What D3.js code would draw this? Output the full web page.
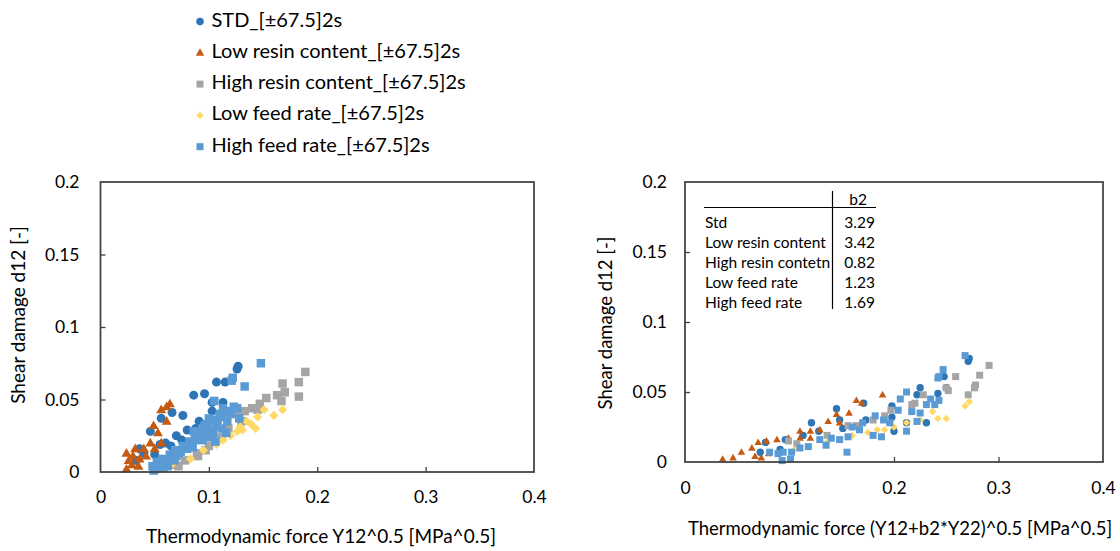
<!DOCTYPE html>
<html><head><meta charset="utf-8">
<script src="https://cdn.jsdelivr.net/npm/d3@7"></script>
<style>
html,body{margin:0;padding:0;background:#fff;}
svg{display:block;font-family:Lato,"Open Sans",sans-serif;}
</style></head>
<body><svg id="c" width="1120" height="551"></svg>
<script>
// ---------- data ----------
const seriesNames = ["STD_[±67.5]2s","Low resin content_[±67.5]2s","High resin content_[±67.5]2s","Low feed rate_[±67.5]2s","High feed rate_[±67.5]2s"];
const seriesColors = ["#2E75B6","#C55A11","#A5A5A5","#FFD966","#5B9BD5"];
const seriesShapes = ["circle","triangle","square","diamond","square"];

const xTicks = [0,0.1,0.2,0.3,0.4];
const xTickLabels = ["0","0.1","0.2","0.3","0.4"];
const yTicks = [0,0.05,0.1,0.15,0.2];
const yTickLabels = ["0","0.05","0.1","0.15","0.2"];

const leftXTitle = "Thermodynamic force Y12^0.5 [MPa^0.5]";
const rightXTitle = "Thermodynamic force (Y12+b2*Y22)^0.5 [MPa^0.5]";
const yTitle = "Shear damage d12 [-]";

const tableHeader = "b2";
const tableRows = ["Std","Low resin content","High resin contetn","Low feed rate","High feed rate"];
const tableValues = ["3.29","3.42","0.82","1.23","1.69"];

// left panel: [Y12^0.5, d12]
const stdLeft = [[0.127,0.073],[0.126,0.071],[0.107,0.062],[0.115,0.062],[0.086,0.053],[0.096,0.054],[0.103,0.048],[0.113,0.048],[0.066,0.041],[0.076,0.039],[0.056,0.037],[0.103,0.042],[0.091,0.035],[0.080,0.029],[0.046,0.028],[0.070,0.025],[0.060,0.020],[0.055,0.019],[0.036,0.016],[0.040,0.013],[0.033,0.008],[0.088,0.030],[0.075,0.022],[0.065,0.018],[0.050,0.012]];
const lowResinLeft = [[0.064,0.047],[0.056,0.043],[0.061,0.035],[0.049,0.032],[0.053,0.027],[0.046,0.020],[0.056,0.020],[0.040,0.016],[0.032,0.016],[0.024,0.013],[0.026,0.008],[0.036,0.009],[0.029,0.005],[0.024,0.002],[0.050,0.016],[0.035,0.004],[0.061,0.045],[0.042,0.011],[0.030,0.011]];
const highResinLeft = [[0.189,0.069],[0.168,0.061],[0.183,0.062],[0.183,0.052],[0.170,0.055],[0.163,0.053],[0.167,0.049],[0.153,0.051],[0.147,0.047],[0.140,0.044],[0.133,0.042],[0.126,0.040],[0.130,0.035],[0.107,0.023],[0.089,0.013],[0.069,0.005],[0.118,0.030],[0.100,0.018],[0.078,0.008],[0.145,0.043],[0.072,0.004],[0.090,0.011],[0.097,0.015],[0.112,0.024]];
const lowFeedLeft = [[0.168,0.043],[0.160,0.039],[0.151,0.043],[0.145,0.038],[0.143,0.030],[0.135,0.035],[0.129,0.031],[0.126,0.028],[0.131,0.029],[0.113,0.022],[0.107,0.019],[0.095,0.015],[0.083,0.009],[0.067,0.006],[0.052,0.001],[0.120,0.025],[0.139,0.033]];
const highFeedLeft = [[0.148,0.075],[0.122,0.065],[0.121,0.063],[0.133,0.059],[0.105,0.049],[0.113,0.044],[0.126,0.044],[0.128,0.037],[0.117,0.035],[0.100,0.037],[0.107,0.032],[0.116,0.027],[0.106,0.021],[0.096,0.028],[0.089,0.024],[0.082,0.021],[0.076,0.018],[0.069,0.015],[0.064,0.012],[0.057,0.009],[0.052,0.007],[0.048,0.004],[0.049,0.001],[0.096,0.032],[0.086,0.028],[0.100,0.029],[0.110,0.040],[0.092,0.025],[0.080,0.016],[0.072,0.013],[0.060,0.006],[0.053,0.003],[0.120,0.040],[0.112,0.030],
  [0.055,0.005],[0.058,0.003],[0.062,0.008],[0.066,0.010],[0.070,0.011],[0.074,0.014],[0.078,0.016],[0.083,0.019],[0.087,0.022],[0.091,0.027],[0.094,0.030],[0.098,0.033],[0.103,0.035],[0.108,0.036],[0.112,0.038],[0.118,0.042],[0.123,0.045],[0.104,0.027],[0.099,0.024],[0.094,0.022],[0.085,0.017],[0.068,0.008],[0.062,0.004],[0.050,0.002]];

// right panel: [(Y12+b2*Y22)^0.5, d12]
const stdRight = [[0.271,0.072],[0.272,0.074],[0.248,0.061],[0.250,0.053],[0.225,0.053],[0.222,0.048],[0.242,0.049],[0.198,0.040],[0.171,0.042],[0.145,0.038],[0.121,0.028],[0.173,0.030],[0.198,0.032],[0.231,0.028],[0.212,0.028],[0.200,0.022],[0.151,0.024],[0.128,0.022],[0.113,0.019],[0.096,0.016],[0.077,0.014],[0.072,0.007],[0.148,0.030],[0.091,0.009]];
const lowResinRight = [[0.189,0.048],[0.164,0.044],[0.169,0.042],[0.157,0.035],[0.145,0.034],[0.148,0.028],[0.137,0.029],[0.110,0.022],[0.120,0.022],[0.110,0.017],[0.120,0.017],[0.099,0.017],[0.088,0.016],[0.078,0.015],[0.070,0.014],[0.064,0.010],[0.080,0.006],[0.067,0.004],[0.073,0.003],[0.054,0.007],[0.046,0.003],[0.036,0.002],[0.129,0.023]];
const highResinRight = [[0.291,0.069],[0.282,0.062],[0.278,0.055],[0.277,0.053],[0.271,0.048],[0.259,0.061],[0.250,0.053],[0.228,0.048],[0.220,0.042],[0.217,0.041],[0.197,0.037],[0.191,0.033],[0.164,0.026],[0.156,0.026],[0.136,0.019],[0.107,0.013],[0.099,0.015],[0.252,0.051],[0.180,0.030]];
const lowFeedRight = [[0.272,0.043],[0.268,0.040],[0.242,0.031],[0.250,0.031],[0.237,0.036],[0.212,0.028],[0.191,0.023],[0.184,0.023],[0.160,0.019],[0.137,0.015],[0.105,0.009],[0.102,0.007],[0.175,0.021],[0.225,0.030],[0.200,0.025]];
const highFeedRight = [[0.268,0.076],[0.247,0.066],[0.243,0.061],[0.242,0.060],[0.212,0.050],[0.206,0.045],[0.235,0.045],[0.243,0.044],[0.239,0.041],[0.231,0.041],[0.217,0.036],[0.204,0.037],[0.225,0.035],[0.222,0.029],[0.212,0.022],[0.196,0.028],[0.182,0.033],[0.188,0.018],[0.180,0.019],[0.167,0.023],[0.156,0.018],[0.148,0.016],[0.155,0.007],[0.140,0.017],[0.129,0.016],[0.118,0.011],[0.110,0.010],[0.102,0.007],[0.094,0.007],[0.089,0.006],[0.101,0.002],[0.093,0.001],[0.081,0.007],[0.170,0.028],[0.160,0.025],[0.135,0.012],[0.190,0.030]];

const leftSeries = [stdLeft, lowResinLeft, highResinLeft, lowFeedLeft, highFeedLeft];
const rightSeries = [stdRight, lowResinRight, highResinRight, lowFeedRight, highFeedRight];

// ---------- drawing ----------
const svg = d3.select("#c");
const FRAME = "#404040";

function shapePath(shape, s){ // s = nominal size (width) in px
  const h = s/2;
  if(shape==="circle"){ return d3.symbol(d3.symbolCircle, Math.PI*h*h)(); }
  if(shape==="square"){ return `M${-h},${-h}H${h}V${h}H${-h}Z`; }
  if(shape==="diamond"){ const r=h*1.15; return `M0,${-r}L${r},0L0,${r}L${-r},0Z`; }
  if(shape==="triangle"){ const th = s*0.87; return `M0,${-th*0.6}L${h},${th*0.4}L${-h},${th*0.4}Z`; }
}

function panel(cfg){
  const x = d3.scaleLinear().domain([0,0.4]).range([cfg.x0,cfg.x1]);
  const y = d3.scaleLinear().domain([0,0.2]).range([cfg.y0,cfg.y1]);
  const g = svg.append("g");

  const ax = g.append("g").attr("transform",`translate(0,${cfg.y0})`)
    .call(d3.axisBottom(x).tickValues(xTicks).tickFormat((d,i)=>xTickLabels[i])
      .tickSizeInner(-5).tickSizeOuter(0).tickPadding(cfg.xPad));
  const ay = g.append("g").attr("transform",`translate(${cfg.x0},0)`)
    .call(d3.axisLeft(y).tickValues(yTicks).tickFormat((d,i)=>yTickLabels[i])
      .tickSizeInner(-5).tickSizeOuter(0).tickPadding(cfg.yPad));
  [ax,ay].forEach(a=>{
    a.select(".domain").remove();
    a.selectAll("line").attr("stroke",FRAME).attr("stroke-width",1.3);
    a.selectAll("text").attr("fill","#000").style("font-size",cfg.tickFont+"px").style("font-family","Lato");
  });
  ax.selectAll(".tick").filter(d=>d===0||d===0.4).select("line").remove();
  ay.selectAll(".tick").filter(d=>d===0||d===0.2).select("line").remove();

  cfg.series.forEach((pts,si)=>{
    g.append("g").selectAll("path").data(pts).join("path")
      .attr("d",shapePath(seriesShapes[si], cfg.msize[si]))
      .attr("transform",d=>`translate(${x(d[0])},${y(d[1])})`)
      .attr("fill",seriesColors[si]);
  });

  g.append("rect").attr("x",cfg.x0).attr("y",cfg.y1)
    .attr("width",cfg.x1-cfg.x0).attr("height",cfg.y0-cfg.y1)
    .attr("fill","none").attr("stroke",FRAME).attr("stroke-width",1.75);

  g.append("text").attr("x",cfg.xtX).attr("y",cfg.xtY).attr("text-anchor","middle")
    .attr("dominant-baseline","middle").style("font-size",cfg.xTitleFont+"px").text(cfg.xTitle);
  g.append("text").attr("transform",`translate(${cfg.ytX},${cfg.ytY}) rotate(-90)`)
    .attr("text-anchor","middle").attr("dominant-baseline","middle")
    .style("font-size",cfg.yTitleFont+"px").text(yTitle);
  return {x,y,g};
}

panel({x0:100.5,x1:534,y0:472,y1:182,xPad:19,yPad:21,tickFont:17.5,xTitleFont:19,yTitleFont:19,
  series:leftSeries,msize:[9,10,8.5,8,8.5],
  xTitle:leftXTitle,xtX:321,xtY:538,ytX:20,ytY:315});
panel({x0:685,x1:1103,y0:462,y1:182,xPad:20,yPad:18,tickFont:17.5,xTitleFont:18.5,yTitleFont:18.5,
  series:rightSeries,msize:[7.4,7.6,7,6.5,7],
  xTitle:rightXTitle,xtX:900,xtY:530,ytX:607,ytY:323});

// table inside right panel
const tg = svg.append("g").style("font-size","15.5px");
tg.append("line").attr("x1",704).attr("x2",876).attr("y1",207.5).attr("y2",207.5).attr("stroke","#000").attr("stroke-width",1.2);
tg.append("line").attr("x1",832.5).attr("x2",832.5).attr("y1",191).attr("y2",309).attr("stroke","#000").attr("stroke-width",1.2);
tg.append("text").attr("x",867).attr("y",205).attr("text-anchor","end").text(tableHeader);
tg.selectAll("text.r").data(tableRows).join("text").attr("class","r")
  .attr("x",705).attr("y",(d,i)=>227.5+i*20).text(d=>d);
tg.selectAll("text.v").data(tableValues).join("text").attr("class","v")
  .attr("x",875).attr("y",(d,i)=>227.5+i*20).attr("text-anchor","end").text(d=>d);

// legend
const lg = svg.append("g");
seriesNames.forEach((n,i)=>{
  const cy = 21.5 + i*31.3;
  lg.append("path").attr("d",shapePath(seriesShapes[i], [7.5,8.5,7,6.5,7][i]))
    .attr("transform",`translate(200,${cy})`).attr("fill",seriesColors[i]);
  lg.append("text").attr("x",211.5).attr("y",cy).attr("dominant-baseline","middle")
    .style("font-size","20px").text(n);
});
</script></body></html>
